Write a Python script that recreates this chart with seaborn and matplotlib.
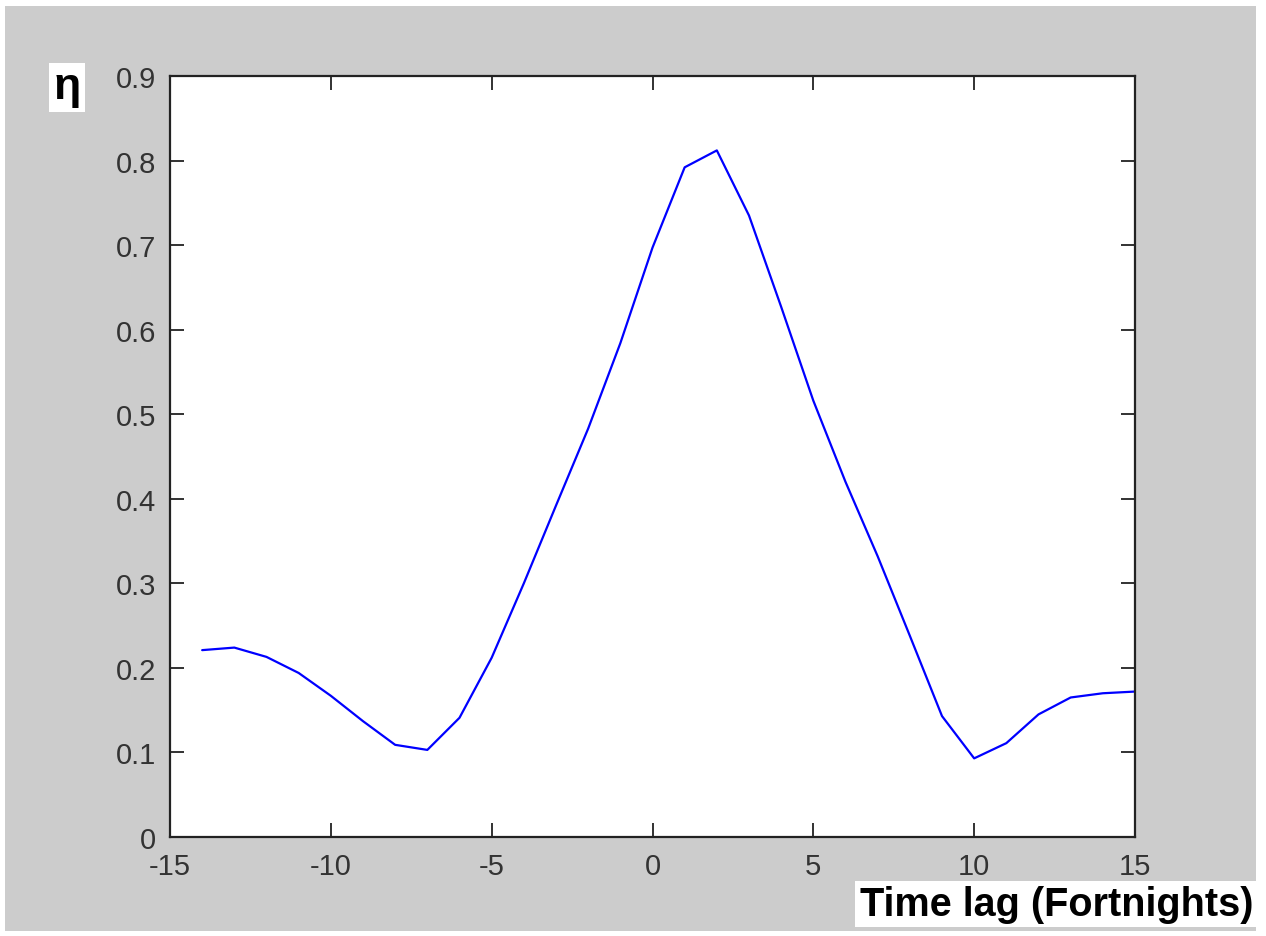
import matplotlib
matplotlib.use("Agg")
import matplotlib.pyplot as plt
import matplotlib.patches as mpatches
import pandas as pd
import seaborn as sns

# time lag in fortnights and the eta value
lags = list(range(-14, 16))
eta = [0.221, 0.224, 0.213, 0.194, 0.167, 0.137, 0.109, 0.103, 0.141, 0.212,
       0.300, 0.392, 0.483, 0.584, 0.697, 0.792, 0.812, 0.735, 0.627, 0.516,
       0.420, 0.332, 0.238, 0.143, 0.093, 0.111, 0.145, 0.165, 0.170, 0.172]
x_ticks = [-15, -10, -5, 0, 5, 10, 15]
y_ticks = [0, 0.1, 0.2, 0.3, 0.4, 0.5, 0.6, 0.7, 0.8, 0.9]
y_labels = ["0", "0.1", "0.2", "0.3", "0.4", "0.5", "0.6", "0.7", "0.8", "0.9"]

df = pd.DataFrame({"lag": lags, "eta": eta})

sns.set_theme(style="white")
plt.rcParams["font.family"] = ["Liberation Sans", "DejaVu Sans"]

fig = plt.figure(figsize=(12.66, 9.37), dpi=100, facecolor="white")

# grey panel behind the axes, like the matlab figure window
fig.patches.append(mpatches.Rectangle((5 / 1266, 5 / 937), 1251 / 1266, 925 / 937,
                                      transform=fig.transFigure, facecolor="#cccccc",
                                      edgecolor="none", zorder=-10))

ax = fig.add_axes([170 / 1266, 99 / 937, 965 / 1266, 761 / 937])
ax.set_facecolor("white")

sns.lineplot(data=df, x="lag", y="eta", color="#0000ff", linewidth=1.6, ax=ax)

ax.set_xlim(-15, 15)
ax.set_ylim(0, 0.9)
ax.set_xticks(x_ticks)
ax.set_xticklabels([str(t) for t in x_ticks])
ax.set_yticks(y_ticks)
ax.set_yticklabels(y_labels)
ax.set_xlabel("")
ax.set_ylabel("")

for s in ax.spines.values():
    s.set_visible(True)
    s.set_color("#222222")
    s.set_linewidth(1.6)

ax.tick_params(direction="in", length=10, width=1.3, color="#222222",
               labelsize=21, labelcolor="#333333", top=True, right=True,
               bottom=True, left=True, labeltop=False, labelright=False)
ax.tick_params(axis="x", pad=11)
ax.tick_params(axis="y", pad=10)

fig.text(67 / 1266, 1 - 88 / 937, "η", fontsize=32, fontweight="bold", color="black",
         ha="center", va="center",
         bbox=dict(facecolor="white", edgecolor="none", pad=3))

fig.text(1253 / 1266, 1 - 905 / 937, "Time lag (Fortnights)", fontsize=28.5,
         fontweight="bold", color="black", ha="right", va="center",
         bbox=dict(facecolor="white", edgecolor="none", pad=3))

fig.savefig("out.png", dpi=100, facecolor="white")
